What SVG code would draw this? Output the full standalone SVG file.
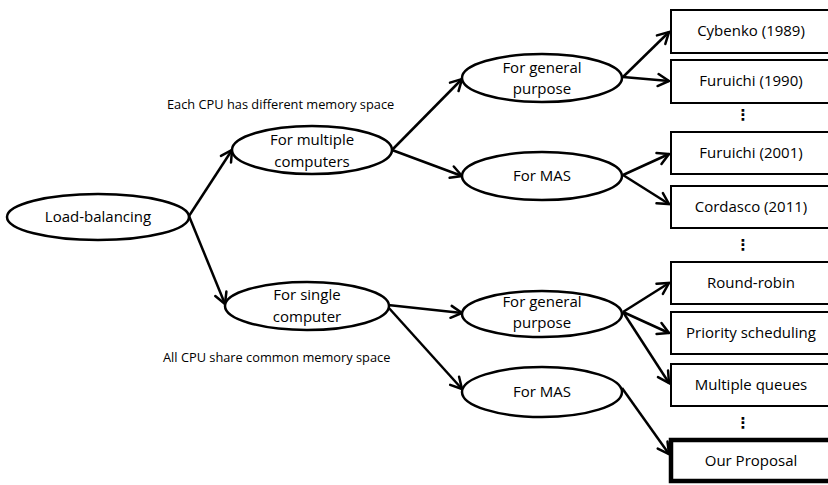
<svg xmlns="http://www.w3.org/2000/svg" width="828" height="485" viewBox="0 0 828 485">
<defs>
<marker id="arr" markerUnits="userSpaceOnUse" markerWidth="16" markerHeight="16" viewBox="0 0 16 16" refX="14" refY="8" orient="auto">
<path d="M3,2 L14,8 L3,14" fill="none" stroke="#000" stroke-width="2.5" stroke-linecap="round" stroke-linejoin="miter"/>
</marker>
</defs>
<style>
.n ellipse{fill:#fff;stroke:#000;stroke-width:2.5}
.b rect{fill:#fff;stroke:#000;stroke-width:2}
.t{font-family:"Open Sans","Noto Sans",sans-serif;font-size:15px;fill:#000;text-anchor:middle}
.lbl{font-family:"Open Sans","Noto Sans",sans-serif;font-size:12.8px;fill:#000}
.dots{font-family:"DejaVu Sans",sans-serif;font-size:15px;font-weight:bold;fill:#000;text-anchor:middle}
#edges line{stroke:#000;stroke-width:2.5;marker-end:url(#arr)}
</style>
<rect width="828" height="485" fill="#fff"/>
<g id="edges">
<line x1="189" y1="216" x2="232" y2="150"/>
<line x1="189" y1="216" x2="225" y2="304"/>
<line x1="392" y1="150" x2="462" y2="79"/>
<line x1="392" y1="150" x2="462" y2="176"/>
<line x1="388" y1="305" x2="462" y2="313"/>
<line x1="388" y1="307" x2="462" y2="389"/>
<line x1="623" y1="77" x2="669" y2="32"/>
<line x1="623" y1="77" x2="669" y2="81"/>
<line x1="623" y1="175" x2="669" y2="154"/>
<line x1="623" y1="175" x2="669" y2="204"/>
<line x1="623" y1="312" x2="669" y2="283"/>
<line x1="623" y1="312" x2="669" y2="333"/>
<line x1="623" y1="312" x2="669" y2="383"/>
<line x1="622" y1="388" x2="669" y2="454"/>
</g>
<g id="load-balancing" class="n"><ellipse cx="98" cy="217" rx="91" ry="23"/><text class="t" x="98" y="222">Load-balancing</text></g>
<g id="multiple-computers" class="n"><ellipse cx="312" cy="150" rx="80" ry="24"/><text class="t" x="312" y="145">For multiple</text><text class="t" x="312" y="167">computers</text></g>
<g id="single-computer" class="n"><ellipse cx="307" cy="306" rx="82" ry="24"/><text class="t" x="307" y="300">For single</text><text class="t" x="307" y="322">computer</text></g>
<g id="general-top" class="n"><ellipse cx="542" cy="78" rx="80" ry="24"/><text class="t" x="542" y="73">For general</text><text class="t" x="542" y="94">purpose</text></g>
<g id="mas-top" class="n"><ellipse cx="542" cy="176" rx="80" ry="24"/><text class="t" x="542" y="181">For MAS</text></g>
<g id="general-bottom" class="n"><ellipse cx="542" cy="314" rx="80" ry="23"/><text class="t" x="542" y="307">For general</text><text class="t" x="542" y="328">purpose</text></g>
<g id="mas-bottom" class="n"><ellipse cx="542" cy="392" rx="80" ry="25"/><text class="t" x="542" y="397">For MAS</text></g>
<g id="cybenko" class="b"><rect x="671" y="10" width="160" height="43"/><text class="t" x="751" y="36">Cybenko (1989)</text></g>
<g id="furuichi1990" class="b"><rect x="671" y="60" width="160" height="43"/><text class="t" x="751" y="86">Furuichi (1990)</text></g>
<g id="furuichi2001" class="b"><rect x="671" y="132" width="160" height="42"/><text class="t" x="751" y="158">Furuichi (2001)</text></g>
<g id="cordasco" class="b"><rect x="671" y="186" width="160" height="42"/><text class="t" x="751" y="212">Cordasco (2011)</text></g>
<g id="round-robin" class="b"><rect x="671" y="262" width="160" height="42"/><text class="t" x="751" y="288">Round-robin</text></g>
<g id="priority" class="b"><rect x="671" y="312" width="160" height="42"/><text class="t" x="751" y="338">Priority scheduling</text></g>
<g id="multiple-queues" class="b"><rect x="671" y="364" width="160" height="42"/><text class="t" x="751" y="390">Multiple queues</text></g>
<g id="our-proposal"><rect x="671" y="440" width="160" height="41" fill="#fff" stroke="#000" stroke-width="4.5"/><text class="t" x="751" y="466">Our Proposal</text></g>
<g id="labels">
<text class="lbl" x="167" y="109">Each CPU has different memory space</text>
<text class="lbl" x="163" y="362">All CPU share common memory space</text>
<text class="dots" x="743" y="120">⋮</text>
<text class="dots" x="743" y="250">⋮</text>
<text class="dots" x="743" y="428">⋮</text>
</g>
</svg>
